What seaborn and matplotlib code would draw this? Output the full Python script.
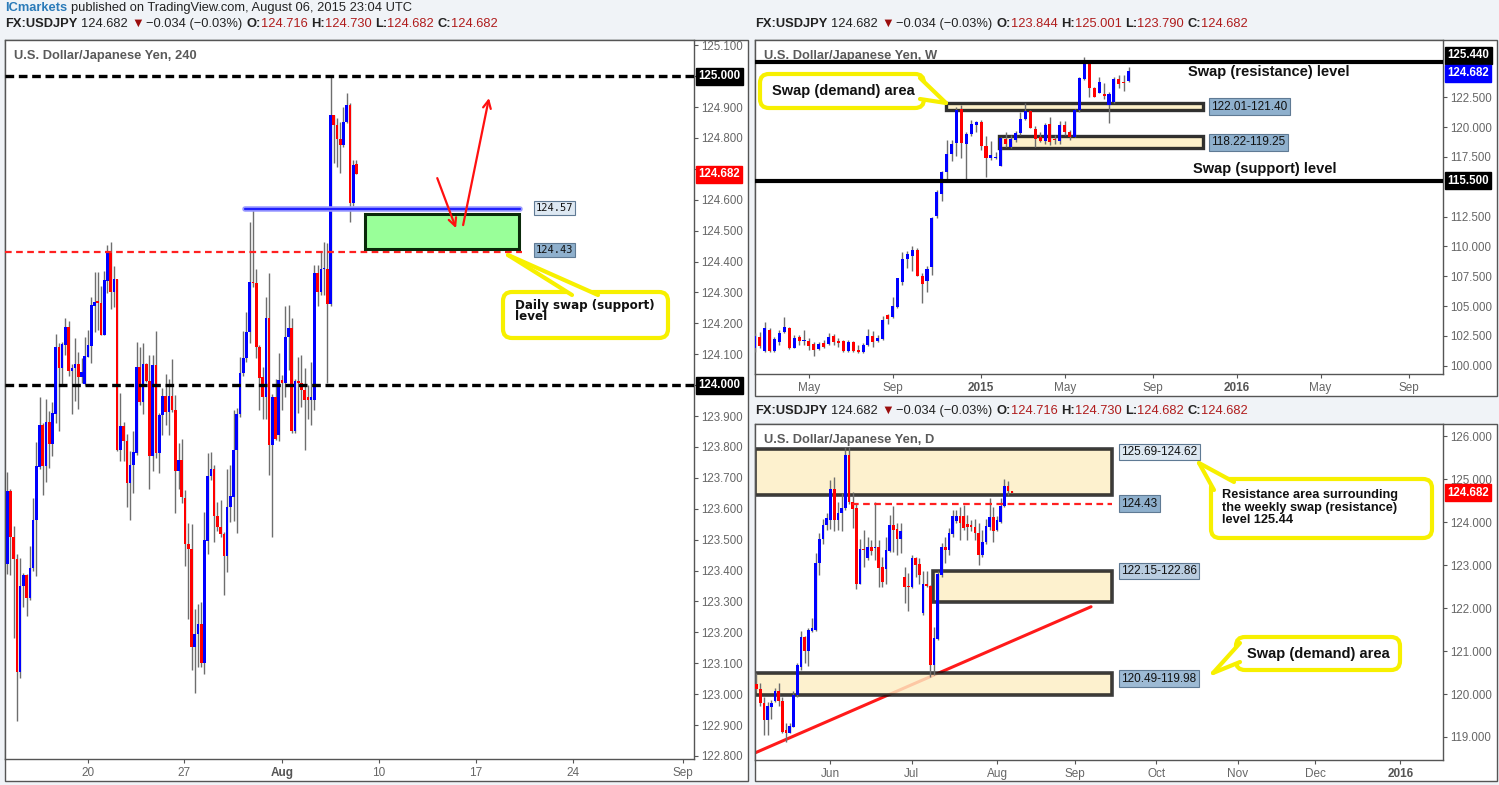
import numpy as np
import matplotlib
matplotlib.use("Agg")
import matplotlib.pyplot as plt
import matplotlib.transforms as mtrans
from matplotlib.patches import Rectangle, FancyBboxPatch, Polygon
from matplotlib.lines import Line2D
import seaborn as sns

# ---------------- 4h bars (index 0 = first bar shown, mid July 2015) ----------------
h4_open = [123.421, 123.657, 123.508, 123.436, 123.070, 123.351, 123.384, 123.312, 123.408, 123.562,
           123.736, 123.871, 123.738, 123.880, 123.809, 123.908, 124.124, 124.056, 124.129, 124.188,
           124.045, 124.054, 124.070, 124.025, 124.003, 124.092, 124.127, 124.256, 124.270, 124.267,
           124.163, 124.337, 124.429, 124.301, 124.343, 123.789, 123.867, 123.818, 123.682, 123.742,
           123.781, 124.059, 123.944, 124.067, 124.014, 123.770, 124.065, 123.779, 123.902, 123.966,
           123.912, 123.964, 123.919, 123.721, 123.757, 123.636, 123.487, 123.471, 123.153, 123.193,
           123.228, 123.101, 123.496, 123.705, 123.730, 123.577, 123.541, 123.519, 123.447, 123.604,
           123.638, 123.789, 123.905, 124.038, 124.087, 124.173, 124.333, 124.330, 124.122, 124.025,
           123.960, 124.216, 123.806, 123.960, 123.838, 124.016, 124.008, 124.157, 124.186, 123.852,
           124.013, 124.008, 123.984, 123.962, 123.952, 123.952, 124.362, 124.302, 124.375, 124.375,
           124.264, 124.874, 124.842, 124.796, 124.777, 124.852, 124.906, 124.588, 124.716]
h4_high = [123.719, 123.663, 123.545, 123.455, 123.441, 123.393, 123.388, 123.478, 123.635, 123.815,
           123.961, 123.876, 123.955, 123.916, 123.947, 124.165, 124.135, 124.141, 124.218, 124.208,
           124.067, 124.152, 124.107, 124.088, 124.157, 124.180, 124.284, 124.365, 124.365, 124.320,
           124.371, 124.452, 124.463, 124.384, 124.345, 123.975, 123.880, 123.841, 123.787, 123.852,
           124.141, 124.124, 124.135, 124.073, 124.096, 124.096, 124.176, 123.910, 123.992, 124.037,
           124.020, 124.084, 123.969, 123.812, 123.826, 123.660, 123.553, 123.552, 123.277, 123.291,
           123.298, 123.590, 123.780, 123.784, 123.740, 123.622, 123.627, 123.525, 123.727, 123.743,
           123.921, 123.925, 124.092, 124.176, 124.238, 124.529, 124.567, 124.376, 124.130, 124.060,
           124.284, 124.362, 123.970, 124.019, 124.103, 124.033, 124.256, 124.259, 124.216, 124.020,
           124.090, 124.097, 124.054, 124.000, 124.075, 124.389, 124.389, 124.430, 124.464, 124.460,
           124.996, 124.874, 124.866, 124.852, 124.900, 124.947, 124.914, 124.730, 124.730]
h4_low = [123.388, 123.384, 123.180, 122.914, 123.051, 123.281, 123.253, 123.303, 123.399, 123.382,
          123.730, 123.643, 123.685, 123.733, 123.772, 123.876, 123.851, 124.000, 124.096, 124.030,
          123.908, 123.950, 123.924, 124.008, 124.000, 124.090, 124.073, 124.172, 124.178, 124.163,
          124.163, 124.298, 124.245, 124.253, 123.787, 123.755, 123.755, 123.607, 123.564, 123.650,
          123.775, 123.935, 123.908, 124.011, 123.665, 123.721, 123.764, 123.717, 123.839, 123.871,
          123.837, 123.912, 123.587, 123.663, 123.620, 123.414, 123.244, 123.077, 123.002, 123.088,
          123.088, 123.066, 123.455, 123.692, 123.493, 123.527, 123.510, 123.320, 123.395, 123.557,
          123.560, 123.520, 123.898, 124.030, 124.076, 124.135, 124.318, 124.087, 123.919, 123.892,
          123.892, 123.709, 123.509, 123.824, 123.820, 123.920, 123.963, 124.049, 123.844, 123.844,
          123.910, 123.930, 123.790, 123.892, 123.870, 123.920, 124.256, 124.292, 124.291, 124.006,
          124.255, 124.718, 124.707, 124.685, 124.770, 124.847, 124.529, 124.580, 124.682]
h4_close = [123.657, 123.508, 123.436, 123.070, 123.351, 123.384, 123.312, 123.408, 123.564, 123.738,
            123.871, 123.738, 123.880, 123.809, 123.910, 124.124, 124.056, 124.133, 124.188, 124.045,
            124.055, 124.070, 124.025, 124.043, 124.093, 124.129, 124.259, 124.270, 124.267, 124.163,
            124.339, 124.429, 124.301, 124.343, 123.789, 123.867, 123.818, 123.682, 123.742, 123.783,
            124.059, 123.944, 124.067, 124.014, 123.770, 124.065, 123.779, 123.902, 123.966, 123.912,
            123.965, 123.919, 123.721, 123.757, 123.638, 123.487, 123.471, 123.153, 123.193, 123.228,
            123.101, 123.498, 123.705, 123.730, 123.577, 123.541, 123.519, 123.447, 123.604, 123.640,
            123.791, 123.905, 124.038, 124.087, 124.173, 124.333, 124.330, 124.122, 124.024, 123.960,
            124.216, 123.806, 123.960, 123.825, 124.016, 124.008, 124.157, 124.186, 123.852, 124.013,
            124.008, 123.984, 123.952, 123.952, 123.963, 124.362, 124.302, 124.375, 124.378, 124.264,
            124.874, 124.842, 124.796, 124.777, 124.852, 124.906, 124.588, 124.712, 124.682]
h4_tick_pos = [25, 54.7, 85, 115, 145, 175, 209]
h4_tick_lab = ['20', '27', 'Aug', '10', '17', '24', 'Sep']

# ---------------- weekly bars (last bar = week of 3 Aug 2015 = index 0) ----------------
wk_open = [101.456, 102.406, 101.261, 102.965, 101.261, 102.015, 102.797, 103.133, 101.512, 102.406,
           102.100, 102.071, 101.819, 101.400, 101.903, 101.791, 102.490, 102.071, 102.099, 101.261,
           102.015, 101.344, 101.177, 101.735, 102.490, 102.099, 102.210, 104.250, 104.055, 104.893,
           107.044, 108.944, 109.224, 109.699, 107.547, 107.100, 108.302, 112.549, 114.393, 116.265,
           117.746, 118.668, 121.518, 118.556, 119.422, 120.176, 120.400, 118.444, 117.382, 117.438,
           116.768, 119.003, 118.332, 118.919, 119.478, 120.679, 121.350, 119.841, 119.199, 118.835,
           120.232, 118.950, 118.800, 120.180, 119.620, 119.200, 121.430, 124.000, 125.570, 123.250,
           122.890, 122.780, 121.850, 122.130, 124.000, 123.810, 123.844]
wk_high = [102.713, 102.853, 103.691, 103.133, 102.434, 102.993, 104.055, 103.272, 102.574, 102.574,
           102.993, 102.294, 102.015, 102.015, 102.155, 102.713, 102.630, 102.294, 102.155, 102.155,
           102.099, 101.735, 101.875, 103.049, 102.909, 102.574, 104.194, 104.306, 105.787, 107.380,
           109.503, 109.615, 110.034, 109.838, 107.743, 108.357, 112.493, 114.728, 116.321, 118.919,
           118.919, 121.713, 121.853, 119.562, 120.596, 120.512, 120.596, 119.254, 118.835, 117.885,
           119.143, 119.618, 119.338, 119.674, 121.294, 121.993, 121.434, 120.093, 119.618, 120.316,
           120.875, 119.340, 120.510, 120.510, 119.760, 121.490, 124.170, 125.850, 125.620, 123.390,
           124.170, 123.670, 122.970, 124.170, 124.370, 124.370, 125.001]
wk_low = [101.177, 101.456, 101.177, 101.177, 101.177, 101.735, 102.713, 101.400, 101.456, 101.735,
          101.735, 101.317, 100.841, 101.317, 101.456, 101.735, 101.735, 101.596, 101.177, 101.177,
          101.177, 101.093, 101.093, 101.652, 101.540, 101.959, 102.155, 103.468, 103.971, 104.809,
          106.765, 108.162, 107.938, 107.547, 105.228, 106.206, 107.603, 112.353, 113.834, 115.427,
          117.159, 117.578, 117.438, 115.594, 119.254, 119.618, 118.081, 115.846, 117.215, 117.298,
          116.740, 118.360, 118.221, 118.724, 119.338, 120.596, 119.897, 118.360, 118.724, 118.556,
          118.500, 118.580, 118.580, 119.340, 118.920, 119.140, 121.290, 123.950, 122.550, 122.490,
          122.830, 122.330, 120.370, 122.050, 123.300, 123.000, 123.790]
wk_close = [102.490, 101.680, 103.133, 101.261, 102.238, 102.769, 103.216, 101.512, 102.294, 102.071,
            102.130, 101.680, 101.344, 101.847, 101.568, 102.406, 101.959, 101.931, 101.261, 102.015,
            101.261, 101.177, 101.735, 102.490, 101.959, 102.322, 103.831, 103.887, 105.005, 107.324,
            108.944, 109.335, 109.699, 107.547, 106.821, 108.078, 112.353, 114.588, 116.265, 117.746,
            118.584, 121.434, 118.668, 119.422, 120.260, 120.400, 118.444, 117.438, 117.662, 117.466,
            119.059, 118.556, 119.003, 119.506, 120.679, 121.350, 119.953, 119.003, 118.835, 120.176,
            118.780, 118.890, 120.180, 119.620, 119.200, 121.430, 124.090, 125.570, 123.250, 122.550,
            123.750, 122.610, 122.780, 124.000, 123.580, 123.670, 124.682]
wk_tick_pos = [-65, -48, -30, -13, 5, 22, 39, 57]
wk_tick_lab = ['May', 'Sep', '2015', 'May', 'Sep', '2016', 'May', 'Sep']

# ---------------- daily bars (index 0 = 3 Aug 2015) ----------------
dy_open = [120.225, 120.109, 119.783, 119.395, 119.705, 119.830, 120.078, 119.837, 119.163, 119.101,
           119.240, 119.977, 120.636, 121.333, 121.008, 121.473, 121.488, 123.039, 123.605, 123.930,
           124.047, 124.767, 124.047, 124.217, 124.318, 125.558, 124.457, 124.318, 122.558, 123.372,
           123.155, 123.411, 123.388, 123.427, 122.962, 122.907, 123.333, 123.930, 123.830, 123.597,
           122.729, 122.519, 122.481, 123.155, 123.023, 121.876, 122.558, 122.519, 120.675, 121.271,
           122.767, 123.427, 123.349, 123.721, 124.031, 124.140, 124.140, 123.953, 123.930, 123.891,
           123.736, 123.233, 123.527, 123.891, 124.109, 123.814, 124.008, 124.372, 124.837, 124.716]
dy_high = [120.48, 120.25, 119.94, 119.82, 119.86, 120.13, 120.25, 119.94, 119.32, 119.33,
           120.06, 120.73, 121.47, 121.35, 121.53, 121.76, 123.27, 123.74, 124.07, 124.20,
           124.98, 125.05, 124.47, 124.67, 125.75, 125.75, 124.71, 124.43, 123.60, 123.81,
           123.66, 123.58, 124.47, 123.58, 123.19, 123.66, 124.16, 124.37, 123.97, 123.97,
           122.96, 122.81, 123.23, 123.19, 123.16, 122.85, 122.85, 122.53, 121.57, 122.85,
           123.52, 123.66, 123.85, 124.28, 124.28, 124.36, 124.40, 124.16, 124.05, 124.06,
           123.97, 123.81, 124.06, 124.55, 124.36, 124.14, 124.55, 125.00, 124.96, 124.73]
dy_low = [120.06, 119.71, 119.05, 119.05, 119.43, 119.82, 119.71, 119.09, 118.89, 119.09,
          119.23, 119.94, 120.56, 120.71, 120.64, 121.45, 121.47, 122.77, 123.50, 123.81,
          123.83, 123.78, 123.81, 123.79, 124.28, 124.43, 123.85, 122.44, 122.56, 122.96,
          123.12, 123.23, 123.12, 122.50, 122.50, 122.57, 123.31, 123.31, 123.23, 123.27,
          122.11, 121.94, 122.46, 122.73, 122.57, 121.84, 122.50, 120.40, 120.44, 121.26,
          122.73, 123.04, 123.23, 123.66, 123.97, 123.58, 123.81, 123.58, 123.78, 123.58,
          123.00, 123.19, 123.50, 123.81, 123.54, 123.80, 123.97, 124.36, 124.63, 124.682]
dy_close = [120.109, 119.783, 119.395, 119.729, 119.783, 120.078, 119.837, 119.124, 119.101, 119.256,
            119.977, 120.674, 121.333, 121.008, 121.488, 121.527, 123.054, 123.605, 123.930, 124.085,
            124.767, 124.047, 124.217, 124.318, 125.558, 124.457, 124.302, 122.558, 123.372, 123.349,
            123.411, 123.333, 123.427, 122.938, 122.612, 123.349, 123.930, 123.814, 123.597, 123.799,
            122.496, 122.481, 123.155, 123.000, 122.767, 122.550, 122.512, 120.675, 121.295, 122.783,
            123.427, 123.349, 123.736, 124.140, 124.140, 123.980, 123.853, 123.891, 123.876, 123.752,
            123.233, 123.543, 123.907, 124.109, 123.799, 124.047, 124.372, 124.837, 124.729, 124.682]
dy_tick_pos = [-45, -23, 0, 21, 43, 65, 86, 109]
dy_tick_lab = ['Jun', 'Jul', 'Aug', 'Sep', 'Oct', 'Nov', 'Dec', '2016']

# ---------------- drawn levels and zones ----------------
h4_round_levels = [125.0, 124.0]
h4_swap = 124.43
h4_swap_end = 159.2
h4_blue = 124.57
h4_blue_span = [73.5, 158.6]
h4_green_x = [110.7, 158.3]
h4_green_y = [124.44, 124.555]
h4_arrow1 = [(133.0, 124.670), (138.8, 124.508)]
h4_arrow2 = [(141.0, 124.518), (149.0, 124.929)]

wk_lines = [125.44, 115.50]
wk_zone_lo = [121.40, 118.22]
wk_zone_hi = [122.01, 119.25]
wk_zone_x0 = [-37.1, -26.4]
wk_zone_x1 = 15.1
wk_zone_lab = ['122.01-121.40', '118.22-119.25']

dy_zone_lo = [124.62, 122.15, 119.98]
dy_zone_hi = [125.69, 122.86, 120.49]
dy_zone_x0 = [-65.4, -17.3, -65.4]
dy_zone_x1 = 31.1
dy_zone_lab = ['125.69-124.62', '122.15-122.86', '120.49-119.98']
dy_zone_lab_y = [125.63, 122.86, 120.36]
dy_swap = 124.43
dy_swap_x0 = -39.2
dy_trend_x = [-65.4, 25.4]
dy_trend_y = [118.63, 122.03]

last_price = 124.682

# ---------------- figure ----------------
sns.set_theme(style="white")
plt.rcParams['font.family'] = ['Liberation Sans', 'DejaVu Sans']

W, H = 1499, 785
fig = plt.figure(figsize=(W / 100, H / 100), dpi=100, facecolor='#f0f3f7')
PX = mtrans.Affine2D().scale(1, -1).translate(0, H)   # pixel coords, y from top


def px_axes(x0, y0, x1, y1):
    return fig.add_axes([x0 / W, 1 - y1 / H, (x1 - x0) / W, (y1 - y0) / H])


for x0, y0, x1, y1 in [(5, 40, 748, 781), (755, 40, 1497, 396), (755, 424, 1497, 781)]:
    fig.add_artist(Rectangle((x0, y0), x1 - x0, y1 - y0, transform=PX,
                             fc='white', ec='#555555', lw=1, zorder=-1))

ax4 = px_axes(5, 40, 694, 759)
axw = px_axes(755, 40, 1443, 374)
axd = px_axes(755, 424, 1443, 760)


def style(ax):
    ax.set_facecolor('white')
    for s in ax.spines.values():
        s.set_color('#555555')
        s.set_linewidth(1)
    ax.yaxis.tick_right()
    ax.tick_params(axis='y', direction='out', length=3, width=0.8, colors='#555555',
                   labelcolor='#666666', labelsize=8.3, pad=2, left=False, right=True)
    ax.tick_params(axis='x', direction='out', length=3, width=0.8, colors='#555555',
                   labelcolor='#666666', labelsize=8.5, pad=3, bottom=True)
    ax.grid(False)


def candles(ax, x, o, h, l, c, width, minh):
    o, h, l, c = map(np.asarray, (o, h, l, c))
    hi = np.maximum(h, np.maximum(o, c))
    lo = np.minimum(l, np.minimum(o, c))
    up = c >= o
    ax.vlines(x, lo, hi, color='#6e6e6e', lw=1, zorder=3)
    ax.bar(x, np.maximum(np.abs(c - o), minh), width, bottom=np.minimum(o, c),
           color=np.where(up, '#0000ff', '#ff0000'), lw=0, zorder=4)


def badge(ax, price, text, color, dy=0):
    tr = mtrans.blended_transform_factory(ax.transAxes, ax.transData)
    if dy:
        tr = mtrans.offset_copy(tr, fig=fig, x=0, y=dy, units='dots')
    ax.text(1.006, price, text, transform=tr, ha='left', va='center', color='white',
            fontsize=8.3, fontweight='bold', clip_on=False, zorder=20,
            bbox=dict(boxstyle='square,pad=0.22', fc=color, ec=color))


def set_xticks(ax, pos, lab, bold):
    ax.set_xticks(pos)
    ax.set_xticklabels(lab)
    for t in ax.get_xticklabels():
        if t.get_text() in bold:
            t.set_fontweight('bold')
            t.set_color('#555555')


def price_box(ax, x, y, text, fc, size=8, family=None):
    kw = {} if family is None else {'family': family}
    ax.text(x, y, text, ha='left', va='center', fontsize=size, color='#111111', zorder=12,
            clip_on=False, bbox=dict(boxstyle='square,pad=0.2', fc=fc, ec='#5f7a94', lw=0.8), **kw)


# ---------------- 4h panel ----------------
style(ax4)
x4 = np.arange(len(h4_open))
candles(ax4, x4, h4_open, h4_high, h4_low, h4_close, 0.82, 0.004)
ax4.set_xlim(-0.68, 212.4)
ax4.set_ylim(122.790, 125.117)
yt = np.round(np.arange(122.8, 125.11, 0.1), 1)
ax4.set_yticks(yt)
# 125/124 carry black badges, 124.7 sits under the last-price badge
ax4.set_yticklabels(['' if v in (124.0, 124.7, 125.0) else f'{v:.3f}' for v in yt])
set_xticks(ax4, h4_tick_pos, h4_tick_lab, ['Aug'])

for lv in h4_round_levels:
    ax4.axhline(lv, color='black', lw=2.4, dashes=(2.6, 1.4), zorder=6)
ax4.plot([-0.68, h4_swap_end], [h4_swap, h4_swap], color='#ff2020', lw=1.6, dashes=(3, 2), zorder=6)
ax4.plot(h4_blue_span, [h4_blue, h4_blue], color='#9a9aff', lw=4, zorder=6)
ax4.plot(h4_blue_span, [h4_blue, h4_blue], color='#2020ff', lw=1.6, zorder=6)
ax4.add_patch(Rectangle((h4_green_x[0], h4_green_y[0]), h4_green_x[1] - h4_green_x[0],
                        h4_green_y[1] - h4_green_y[0], fc='#99ff99', ec='#0a2a0a', lw=2.2, zorder=7))
for tail, tip in (h4_arrow1, h4_arrow2):
    ax4.annotate('', xy=tip, xytext=tail, zorder=8,
                 arrowprops=dict(arrowstyle='->', color='#ff1010', lw=1.6, mutation_scale=14,
                                 shrinkA=0, shrinkB=0))
price_box(ax4, 163.5, 124.573, '124.57', '#dde8f2', 7.5, 'DejaVu Sans Mono')
price_box(ax4, 163.5, 124.438, '124.43', '#8fb0cd', 7.5, 'DejaVu Sans Mono')
badge(ax4, 125.0, '125.000', 'black')
badge(ax4, 124.0, '124.000', 'black')
badge(ax4, last_price, '124.682', '#ff0000')
ax4.text(0.013, 0.978, 'U.S. Dollar/Japanese Yen, 240', transform=ax4.transAxes, ha='left',
         va='center', fontsize=9.3, fontweight='bold', color='#5a5a5a', zorder=12)

# ---------------- weekly panel ----------------
style(axw)
xw = np.arange(-len(wk_open) + 1, 1)
candles(axw, xw, wk_open, wk_high, wk_low, wk_close, 0.62, 0.09)
axw.set_xlim(-75.96, 63.9)
axw.set_ylim(99.30, 127.30)
ywt = [100.0, 102.5, 105.0, 107.5, 110.0, 112.5, 117.5, 120.0, 122.5]
axw.set_yticks(ywt)
axw.set_yticklabels([f'{v:.3f}' for v in ywt])
set_xticks(axw, wk_tick_pos, wk_tick_lab, ['2015', '2016'])
for lv in wk_lines:
    axw.axhline(lv, color='black', lw=3, zorder=6)
for lo, hi, x0, lab in zip(wk_zone_lo, wk_zone_hi, wk_zone_x0, wk_zone_lab):
    axw.add_patch(Rectangle((x0, lo), wk_zone_x1 - x0, hi - lo, fc='#fdefc4', ec='#1a1a1a',
                            lw=2.4, alpha=0.9, zorder=2))
    price_box(axw, 16.8, (lo + hi) / 2, lab, '#8fb0cd', 8.5)
badge(axw, 125.44, '125.440', 'black', dy=7)
badge(axw, last_price, '124.682', '#0000ff', dy=-2)
badge(axw, 115.50, '115.500', 'black')
axw.text(0.013, 0.952, 'U.S. Dollar/Japanese Yen, W', transform=axw.transAxes, ha='left',
         va='center', fontsize=9.3, fontweight='bold', color='#5a5a5a', zorder=5)
axw.text(12.1, 124.62, 'Swap (resistance) level', ha='left', va='center', fontsize=10.5,
         fontweight='bold', color='#111111', zorder=12)
axw.text(13.1, 116.49, 'Swap (support) level', ha='left', va='center', fontsize=10.5,
         fontweight='bold', color='#111111', zorder=12)

# ---------------- daily panel ----------------
style(axd)
xd = np.arange(-65, -65 + len(dy_open))
sns.lineplot(x=dy_trend_x, y=dy_trend_y, ax=axd, color='#ff1a1a', lw=2.2, zorder=1)
for lo, hi, x0 in zip(dy_zone_lo, dy_zone_hi, dy_zone_x0):
    axd.add_patch(Rectangle((x0, lo), dy_zone_x1 - x0, hi - lo, fc='#fdefc4', ec='#111111',
                            lw=2.6, alpha=0.82, zorder=2))
candles(axd, xd, dy_open, dy_high, dy_low, dy_close, 0.72, 0.025)
axd.plot([dy_swap_x0, dy_zone_x1], [dy_swap, dy_swap], color='#ff2020', lw=1.6, dashes=(3, 2), zorder=6)
axd.set_xlim(-65.4, 120.5)
axd.set_ylim(118.465, 126.28)
ydt = np.arange(119.0, 126.5, 1.0)
axd.set_yticks(ydt)
axd.set_yticklabels([f'{v:.3f}' for v in ydt])
set_xticks(axd, dy_tick_pos, dy_tick_lab, ['2016'])
box_cols = ['#dde8f2', '#b9cde0', '#9dbad4']
for ly, lab, fc in zip(dy_zone_lab_y, dy_zone_lab, box_cols):
    price_box(axd, 33.5, ly, lab, fc, 8.5)
price_box(axd, 33.5, dy_swap, '124.43', '#8fb0cd', 8.5)
badge(axd, last_price, '124.682', '#ff0000')
axd.text(0.013, 0.952, 'U.S. Dollar/Japanese Yen, D', transform=axd.transAxes, ha='left',
         va='center', fontsize=9.3, fontweight='bold', color='#5a5a5a', zorder=12)


# ---------------- callouts (pixel coords) ----------------
def callout(box, tip, base, lines, size, family=None, weight='bold'):
    x0, y0, x1, y1 = box
    fig.add_artist(FancyBboxPatch((x0, y0), x1 - x0, y1 - y0, transform=PX,
                                  boxstyle='round,pad=0,rounding_size=9', fc='white',
                                  ec='#f7f000', lw=3, zorder=30))
    (bx0, by0), (bx1, by1) = base
    fig.add_artist(Polygon([(bx0, by0), tip, (bx1, by1)], closed=True, transform=PX,
                           fc='white', ec='none', zorder=31))
    for b in base:
        fig.add_artist(Line2D([b[0], tip[0]], [b[1], tip[1]], transform=PX, color='#f7f000',
                              lw=3, solid_capstyle='round', zorder=32))
    for tx, ty, s in lines:
        kw = {} if family is None else {'family': family}
        fig.text(tx, ty, s, transform=PX, ha='left', va='center', fontsize=size,
                 fontweight=weight, color='#111111', zorder=33, **kw)


callout((503, 292, 668, 338), (508, 255), [(572, 295), (598, 295)],
        [(515, 305, 'Daily swap (support)'), (515, 316, 'level')], 8.6, 'DejaVu Sans')
callout((760, 74, 924, 108), (946, 103), [(920, 78), (920, 99)],
        [(772, 91, 'Swap (demand) area')], 10.5)
callout((1211, 479, 1432, 538), (1199, 463), [(1214, 490), (1234, 482)],
        [(1222, 495, 'Resistance area surrounding'), (1222, 507.5, 'the weekly swap (resistance)'),
         (1222, 520, 'level 125.44')], 9.2)
callout((1236, 637, 1400, 670), (1213, 673), [(1240, 643), (1240, 662)],
        [(1247, 654, 'Swap (demand) area')], 10.5)


# ---------------- header texts ----------------
def seq_text(x, y, pieces, size):
    r = fig.canvas.get_renderer()
    sp = size * 0.28 * 100 / 72
    for s, col, wt, gap in pieces:
        t = fig.text(x, y, s, transform=PX, color=col, fontsize=size, fontweight=wt,
                     va='center', ha='left', zorder=40)
        x += t.get_window_extent(r).width + gap * sp


DK, RD = '#222222', '#b01c1c'


def quote(o, h, l, c):
    return [('FX:USDJPY', DK, 'bold', 1), ('124.682', DK, 'normal', 1), ('▼', '#9b0d0d', 'normal', 0.6),
            ('−0.034 (−0.03%)', DK, 'normal', 1),
            ('O:', DK, 'bold', 0), (o, RD, 'normal', 1), ('H:', DK, 'bold', 0), (h, RD, 'normal', 1),
            ('L:', DK, 'bold', 0), (l, RD, 'normal', 1), ('C:', DK, 'bold', 0), (c, RD, 'normal', 0)]


seq_text(5, 8, [('ICmarkets', '#2b7bb9', 'bold', 1),
                ('published on TradingView.com, August 06, 2015 23:04 UTC', DK, 'normal', 0)], 9.3)
seq_text(5, 24, quote('124.716', '124.730', '124.682', '124.682'), 9.3)
seq_text(755, 24, quote('123.844', '125.001', '123.790', '124.682'), 9.3)
seq_text(755, 411, quote('124.716', '124.730', '124.682', '124.682'), 9.3)

fig.savefig('out.png', dpi=100, facecolor=fig.get_facecolor())
